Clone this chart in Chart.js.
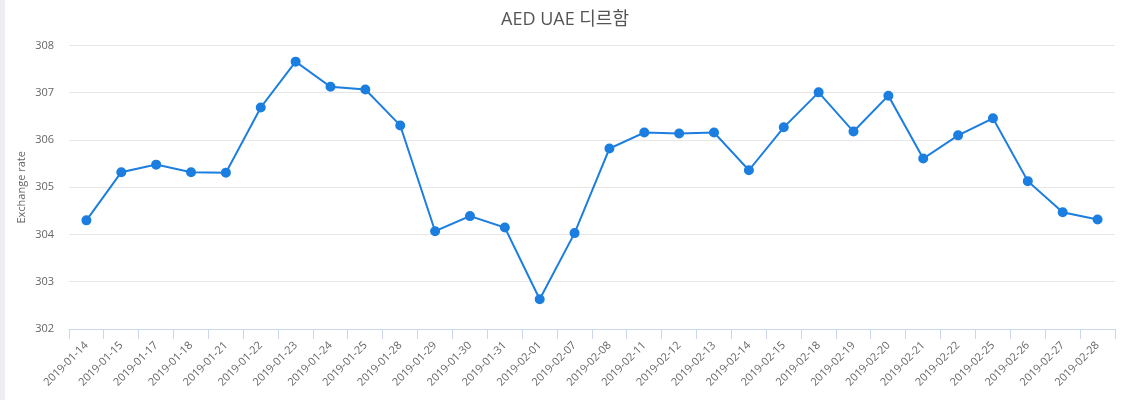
<!DOCTYPE html>
<html>
<head>
<meta charset="utf-8">
<script src="https://cdn.jsdelivr.net/npm/chart.js@4"></script>
<style>
    html, body { margin: 0; padding: 0; }
    body { width: 1125px; height: 400px; background: linear-gradient(to right, #eceef3 0, #eceef3 5px, #ffffff 5px); }
    #wrap { position: relative; width: 1125px; height: 400px; }
</style>
</head>
<body>
<div id="wrap"><canvas id="rateChart"></canvas></div>
<script>
const dates = [
    '2019-01-14', '2019-01-15', '2019-01-17', '2019-01-18', '2019-01-21', '2019-01-22',
    '2019-01-23', '2019-01-24', '2019-01-25', '2019-01-28', '2019-01-29', '2019-01-30',
    '2019-01-31', '2019-02-01', '2019-02-07', '2019-02-08', '2019-02-11', '2019-02-12',
    '2019-02-13', '2019-02-14', '2019-02-15', '2019-02-18', '2019-02-19', '2019-02-20',
    '2019-02-21', '2019-02-22', '2019-02-25', '2019-02-26', '2019-02-27', '2019-02-28'
];
const rates = [
    304.30, 305.32, 305.48, 305.32, 305.31, 306.69,
    307.66, 307.13, 307.07, 306.31, 304.07, 304.39,
    304.15, 302.63, 304.03, 305.82, 306.16, 306.14,
    306.16, 305.36, 306.27, 307.01, 306.18, 306.94,
    305.61, 306.10, 306.46, 305.13, 304.47, 304.32
];
const yTicks = [302, 303, 304, 305, 306, 307, 308];

const FONT = '"Open Sans", "Noto Sans CJK KR", sans-serif';
const LINE_COLOR = '#1b7ee0';

new Chart(document.getElementById('rateChart'), {
    type: 'line',
    data: {
        labels: dates,
        datasets: [{
            label: 'AED',
            data: rates,
            borderColor: LINE_COLOR,
            backgroundColor: LINE_COLOR,
            borderWidth: 2,
            pointRadius: 4,
            pointHoverRadius: 5,
            tension: 0
        }]
    },
    options: {
        responsive: true,
        maintainAspectRatio: false,
        animation: false,
        layout: { padding: { left: 15, right: 10, top: 0, bottom: 0 } },
        plugins: {
            legend: { display: false },
            title: {
                display: true,
                text: 'AED UAE 디르함',
                color: '#555555',
                font: { family: FONT, size: 18, weight: 'normal' },
                padding: { top: 9, bottom: 15 }
            }
        },
        scales: {
            x: {
                offset: true,
                border: { display: true, color: '#ccd6eb', width: 1 },
                grid: {
                    offset: true,
                    drawOnChartArea: false,
                    drawTicks: true,
                    tickLength: 10,
                    color: '#ccd6eb'
                },
                ticks: {
                    autoSkip: false,
                    minRotation: 45,
                    maxRotation: 45,
                    color: '#666666',
                    padding: 0,
                    font: { family: FONT, size: 11 }
                },
                afterFit: (scale) => { scale.height = 71; }
            },
            y: {
                min: 302,
                max: 308,
                afterBuildTicks: (scale) => { scale.ticks = yTicks.map(v => ({ value: v })); },
                border: { display: false },
                grid: { color: '#e6e6e6', drawTicks: false },
                ticks: {
                    color: '#666666',
                    padding: 15,
                    font: { family: FONT, size: 11 }
                },
                title: {
                    display: true,
                    text: 'Exchange rate',
                    color: '#666666',
                    font: { family: FONT, size: 11 },
                    padding: { top: 0, bottom: 6 }
                },
                afterFit: (scale) => { scale.width = 54; }
            }
        }
    }
});
</script>
</body>
</html>
